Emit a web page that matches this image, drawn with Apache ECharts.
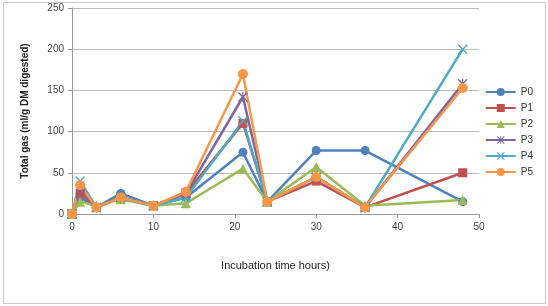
<!DOCTYPE html>
<html>
<head>
<meta charset="utf-8">
<script src="https://cdn.jsdelivr.net/npm/echarts@6/dist/echarts.min.js"></script>
<style>
  html, body { margin: 0; padding: 0; background: #fff; }
  #chart { width: 548px; height: 306px; }
  .frame { position: absolute; left: 3px; top: 2px; width: 541px; height: 300px; border: 1px solid #c8c8c8; pointer-events: none; }
</style>
</head>
<body>
<div id="chart"></div>
<div class="frame"></div>
<script>
// incubation hours
var hours = [0, 1, 3, 6, 10, 14, 21, 24, 30, 36, 48]
var seriesNames = ['P0', 'P1', 'P2', 'P3', 'P4', 'P5']
var p0 = [0, 20, 8, 25, 10, 20, 75, 15, 77, 77, 15]
var p1 = [0, 25, 8, 20, 10, 25, 110, 15, 40, 8, 50]
var p2 = [0, 15, 10, 18, 10, 13, 55, 15, 57, 10, 17]
var p3 = [0, 30, 8, 20, 10, 25, 142, 15, 45, 8, 158]
var p4 = [0, 40, 8, 20, 10, 20, 113, 15, 45, 8, 200]
var p5 = [0, 35, 8, 20, 10, 27, 170, 15, 45, 8, 153]
var xTicks = [0, 10, 20, 30, 40, 50]
var yTicks = [0, 50, 100, 150, 200, 250]

var colors = ['#4F81BD', '#C0504D', '#9BBB59', '#8064A2', '#4BACC6', '#F79646']
var xMark = 'path://M0,1L1,0L5,4L9,0L10,1L6,5L10,9L9,10L5,6L1,10L0,9L4,5Z'
var starMark = 'path://M0,1L1,0L5,4L9,0L10,1L6,5L10,9L9,10L5,6L1,10L0,9L4,5ZM4.4,0H5.6V10H4.4Z'
var symbols = ['circle', 'rect', 'triangle', starMark, xMark, 'circle']
var sizes = [9, 9, 10, 10, 10, 10]

function pairs(vals) {
  return hours.map(function (h, i) { return [h, vals[i]] })
}

var allData = [p0, p1, p2, p3, p4, p5]
var series = allData.map(function (vals, i) {
  return {
    name: seriesNames[i],
    type: 'line',
    data: pairs(vals),
    symbol: symbols[i],
    symbolSize: sizes[i],
    lineStyle: { width: 2.5, color: colors[i] },
    itemStyle: { color: colors[i] }
  }
})

var chart = echarts.init(document.getElementById('chart'))
chart.setOption({
  animation: false,
  color: colors,
  grid: { left: 72, right: 69, top: 8, bottom: 92 },
  legend: {
    orient: 'vertical',
    right: 10,
    top: 82,
    itemWidth: 30,
    itemHeight: 10,
    itemGap: 6,
    textStyle: { fontSize: 10, color: '#333', fontFamily: 'Liberation Sans' },
    data: seriesNames
  },
  xAxis: {
    type: 'value',
    min: xTicks[0],
    max: xTicks[xTicks.length - 1],
    interval: 10,
    name: 'Incubation time hours)',
    nameLocation: 'middle',
    nameGap: 46,
    nameTextStyle: { fontSize: 11, color: '#222', fontFamily: 'Liberation Sans' },
    axisLine: { lineStyle: { color: '#999' } },
    axisTick: { show: true, length: 4, lineStyle: { color: '#999' } },
    axisLabel: { fontSize: 10, color: '#444', margin: 8, fontFamily: 'Liberation Sans' },
    splitLine: { show: false }
  },
  yAxis: {
    type: 'value',
    min: yTicks[0],
    max: yTicks[yTicks.length - 1],
    interval: 50,
    name: 'Total gas (ml/g DM digested)',
    nameLocation: 'middle',
    nameGap: 42,
    nameTextStyle: { fontSize: 10, fontWeight: 'bold', color: '#222', fontFamily: 'Liberation Sans' },
    axisLine: { show: true, lineStyle: { color: '#999' } },
    axisTick: { show: true, length: 4, lineStyle: { color: '#999' } },
    axisLabel: { fontSize: 10, color: '#444', margin: 8, fontFamily: 'Liberation Sans' },
    splitLine: { lineStyle: { color: '#bbb', width: 1 } }
  },
  series: series
})
</script>
</body>
</html>
